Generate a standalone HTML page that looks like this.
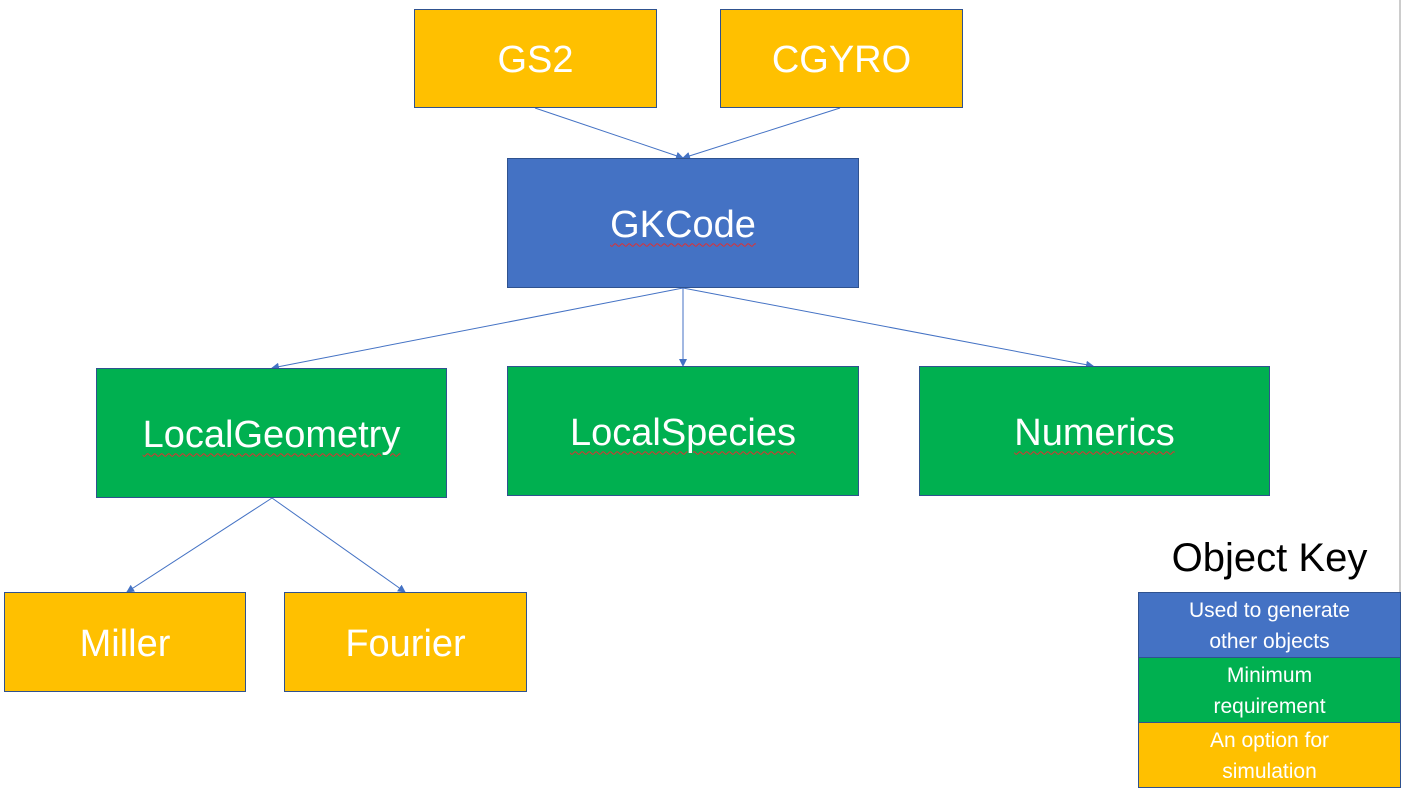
<!DOCTYPE html>
<html><head><meta charset="utf-8"><style>
body{margin:0;width:1401px;height:788px;background:#fff;position:relative;overflow:hidden;font-family:"Liberation Sans",sans-serif}
.b{position:absolute;box-sizing:border-box;border:1px solid #2F528F;display:flex;align-items:center;justify-content:center;color:#fff;font-size:38px;padding-top:4px}
.y{background:#FFC000}.g{background:#00B050}.bl{background:#4472C4}
.u{text-decoration:underline wavy #e03030;text-decoration-thickness:1px;text-underline-offset:6px}
.k{position:absolute;left:1138px;width:263px;box-sizing:border-box;border:1px solid #2F528F;color:#fff;font-size:21px;text-align:center;line-height:31px;display:flex;align-items:center;justify-content:center;padding-top:2px}
</style></head><body>
<svg width="1401" height="788" style="position:absolute;left:0;top:0">
<defs><marker id="a" markerWidth="8" markerHeight="8" refX="7" refY="4" orient="auto" markerUnits="userSpaceOnUse"><path d="M0,0 L8,4 L0,8 z" fill="#4472C4"/></marker></defs>
<g stroke="#4472C4" stroke-width="1" marker-end="url(#a)">
<line x1="535" y1="108" x2="683" y2="158"/>
<line x1="840" y1="108" x2="683" y2="158"/>
<line x1="683" y1="288" x2="272" y2="368"/>
<line x1="683" y1="288" x2="683" y2="366"/>
<line x1="683" y1="288" x2="1093" y2="366"/>
<line x1="272" y1="498" x2="127" y2="592"/>
<line x1="272" y1="498" x2="405" y2="592"/>
</g>
<line x1="1400" y1="0" x2="1400" y2="788" stroke="#999" stroke-width="1"/>
</svg>
<div class="b y" style="left:414px;top:9px;width:243px;height:99px">GS2</div>
<div class="b y" style="left:720px;top:9px;width:243px;height:99px">CGYRO</div>
<div class="b bl" style="left:507px;top:158px;width:352px;height:130px"><span class="u">GKCode</span></div>
<div class="b g" style="left:96px;top:368px;width:351px;height:130px"><span class="u">LocalGeometry</span></div>
<div class="b g" style="left:507px;top:366px;width:352px;height:130px"><span class="u">LocalSpecies</span></div>
<div class="b g" style="left:919px;top:366px;width:351px;height:130px"><span class="u">Numerics</span></div>
<div class="b y" style="left:4px;top:592px;width:242px;height:100px">Miller</div>
<div class="b y" style="left:284px;top:592px;width:243px;height:100px">Fourier</div>
<div style="position:absolute;left:1128px;width:283px;top:536px;text-align:center;font-size:40px;color:#000">Object Key</div>
<div class="k bl" style="top:592px;height:66px">Used to generate<br>other objects</div>
<div class="k g" style="top:657px;height:66px">Minimum<br>requirement</div>
<div class="k y" style="top:722px;height:66px">An option for<br>simulation</div>
</body></html>
